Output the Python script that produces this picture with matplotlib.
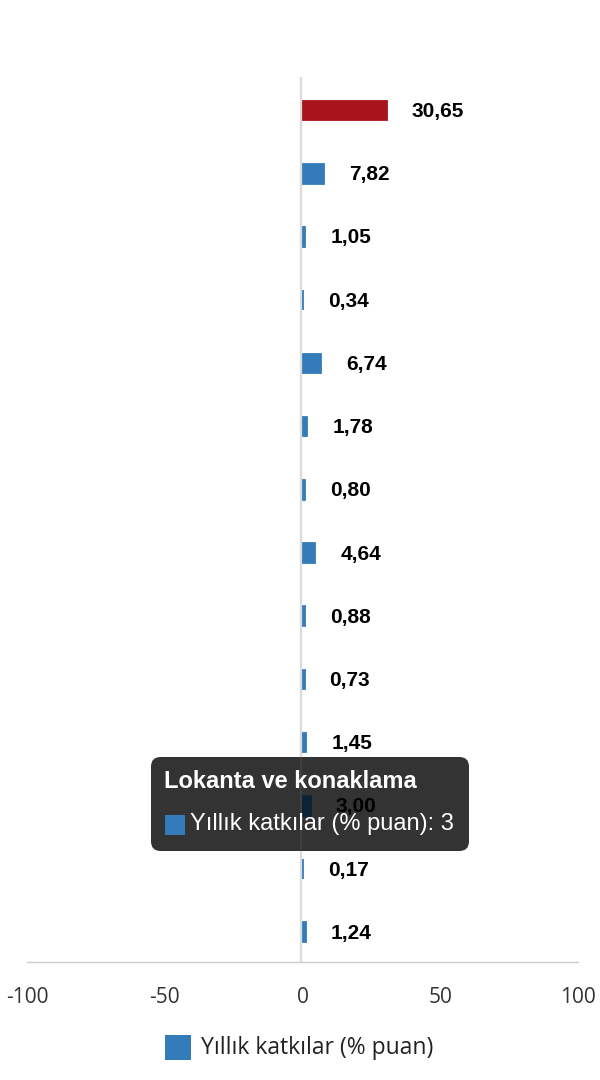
import matplotlib
matplotlib.use("Agg")
import matplotlib.pyplot as plt
from matplotlib.patches import FancyBboxPatch, Rectangle

categories = [
    "Genel", "Gıda ve alkolsüz içecekler", "Alkollü içecekler ve tütün",
    "Giyim ve ayakkabı", "Konut", "Mobilya ve ev eşyası", "Sağlık",
    "Ulaştırma", "Bilgi ve iletişim", "Eğlence, spor ve kültür",
    "Eğitim hizmetleri", "Lokanta ve konaklama",
    "Sigorta ve finansal hizmetler", "Kişisel bakım ve çeşitli mal ve hizmetler",
]
values = [30.65, 7.82, 1.05, 0.34, 6.74, 1.78, 0.80, 4.64, 0.88, 0.73, 1.45, 3.00, 0.17, 1.24]
series_name = "Yıllık katkılar (% puan)"
xticks = [-100, -50, 0, 50, 100]
hover_index = 11

W, H = 600, 1080
fig = plt.figure(figsize=(W / 100, H / 100), dpi=100)
ax = fig.add_axes([27 / W, 1 - 962 / H, (578 - 27) / W, (962 - 77) / H])
ax.patch.set_visible(False)

blue = "#337cb9"
red = "#a8141c"
colors = [red] + [blue] * (len(values) - 1)
colors[hover_index] = "#0c2336"
ypos = list(range(len(values)))
ax.barh(ypos, values, height=0.31, color=colors, edgecolor=colors, linewidth=1.3, zorder=3)

ax.set_xlim(-100, 100)
ax.set_ylim(len(values) - 0.5 - 0.03, -0.5 - 0.03)
ax.set_yticks([])
ax.set_xticks(xticks)
ax.set_xticklabels([str(t) for t in xticks], fontsize=15, color="#333333", family="Open Sans")
ax.tick_params(axis="x", length=0, pad=18)
for s in ["top", "right", "left"]:
    ax.spines[s].set_visible(False)
ax.spines["bottom"].set_color("#cccccc")
ax.spines["bottom"].set_linewidth(1)
ax.axvline(-0.4, color="#6a6a6a", alpha=0.235, lw=1.6, zorder=2)

for y, v in zip(ypos, values):
    ax.annotate(f"{v:.2f}".replace(".", ","), xy=(v, y), xytext=(25, -1),
                textcoords="offset pixels", ha="left", va="center",
                fontsize=15, fontweight="bold", family="Liberation Sans",
                color="black", zorder=4)

# tooltip
tx0, ty0, tx1, ty1 = 151, 757, 469, 851
tip = FancyBboxPatch((tx0 / W, 1 - ty1 / H), (tx1 - tx0) / W, (ty1 - ty0) / H,
                     boxstyle="round,pad=0,rounding_size=0.016",
                     transform=fig.transFigure, facecolor="#333333", edgecolor="none",
                     alpha=1.0, zorder=1.5, clip_on=False, mutation_aspect=0.56)
ax.add_artist(tip)
ax.text(164 / W, 1 - 781 / H, categories[hover_index], transform=fig.transFigure,
        color="white", fontsize=17, fontweight="bold", family="Liberation Sans",
        ha="left", va="center", zorder=5)
ax.add_artist(Rectangle((165 / W, 1 - 835 / H), 20 / W, 20 / H, transform=fig.transFigure,
                        facecolor=blue, edgecolor="none", zorder=5, clip_on=False))
ax.text(190 / W, 1 - 824 / H, f"{series_name}: {values[hover_index]:g}", transform=fig.transFigure,
        color="white", fontsize=17, family="Liberation Sans",
        ha="left", va="center", zorder=5)

# legend
fig.patches.append(Rectangle((165 / W, 1 - 1060 / H), 26 / W, 25 / H, transform=fig.transFigure,
                             facecolor=blue, edgecolor="none"))
fig.text(201 / W, 1 - 1048 / H, series_name, fontsize=16.5, family="Open Sans",
         color="#222222", ha="left", va="center")

fig.savefig("out.png", dpi=100)
